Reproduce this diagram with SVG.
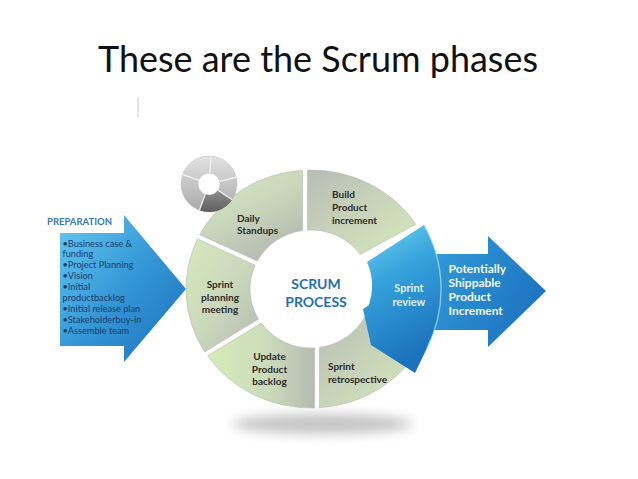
<svg xmlns="http://www.w3.org/2000/svg" width="638" height="479" viewBox="0 0 638 479">
<defs>
<style>
.t{font-family:Lato,"Liberation Sans",sans-serif}
.seg{stroke:#b4bab0;stroke-width:0.6}
.lbl{font-family:Lato,"Liberation Sans",sans-serif;font-size:10px;font-weight:700;fill:#2b2b2b}
.bul{font-family:Lato,"Liberation Sans",sans-serif;font-size:9.2px;fill:#173c6e}
.wt{font-family:Lato,"Liberation Sans",sans-serif;font-size:12px;font-weight:700}
.sr{font-family:Lato,"Liberation Sans",sans-serif;font-size:11px;font-weight:700;fill:#dff3fb}
</style>
<linearGradient id="gGL" x1="0" y1="0" x2="1" y2="1"><stop offset="0" stop-color="#d6e9bb"/><stop offset="0.5" stop-color="#cbd9bb"/><stop offset="1" stop-color="#b5b9b1"/></linearGradient>
<linearGradient id="gLG" x1="0" y1="0" x2="1" y2="1"><stop offset="0" stop-color="#b8bcb4"/><stop offset="0.5" stop-color="#c8d4ba"/><stop offset="1" stop-color="#d5e9b9"/></linearGradient>
<linearGradient id="gDaily" x1="0" y1="0" x2="0.6" y2="1"><stop offset="0" stop-color="#d8eabe"/><stop offset="0.5" stop-color="#cad8bb"/><stop offset="1" stop-color="#b6bab2"/></linearGradient>
<linearGradient id="gUpd" x1="0" y1="0" x2="1" y2="0"><stop offset="0" stop-color="#d6eaba"/><stop offset="0.55" stop-color="#ccdcba"/><stop offset="1" stop-color="#b6bab2"/></linearGradient>
<linearGradient id="gBlue" x1="0" y1="0" x2="0.3" y2="1"><stop offset="0" stop-color="#78d6f2"/><stop offset="0.4" stop-color="#36a3dc"/><stop offset="1" stop-color="#1b72bd"/></linearGradient>
<linearGradient id="gRight" x1="0" y1="0" x2="1" y2="0.4"><stop offset="0" stop-color="#3aa5de"/><stop offset="1" stop-color="#1d76c1"/></linearGradient>
<linearGradient id="gLeft" x1="0" y1="0" x2="1" y2="1"><stop offset="0" stop-color="#66c9f0"/><stop offset="0.5" stop-color="#3497d6"/><stop offset="1" stop-color="#1c70bb"/></linearGradient>
<linearGradient id="gRing" x1="0" y1="0" x2="0" y2="1"><stop offset="0" stop-color="#e2e2e2"/><stop offset="1" stop-color="#a9a9a9"/></linearGradient>
<linearGradient id="gRingD" x1="0" y1="0" x2="0" y2="1"><stop offset="0" stop-color="#909090"/><stop offset="1" stop-color="#5e5e5e"/></linearGradient>
<filter id="blur" x="-50%" y="-200%" width="200%" height="500%"><feGaussianBlur stdDeviation="6"/></filter>
</defs>
<rect width="638" height="479" fill="#ffffff"/>
<text class="t" x="98" y="72" font-size="37" fill="#111" textLength="440" lengthAdjust="spacingAndGlyphs">These are the Scrum phases</text>
<line x1="138" y1="97" x2="138" y2="117" stroke="#c8c8c8" stroke-width="1"/>
<ellipse cx="323" cy="424" rx="90" ry="10" fill="#8a8a8a" opacity="0.5" filter="url(#blur)"/>
<g id="preparation">
<polygon points="60,233 124,233 124,215 186,289 124,362 124,346 60,346" fill="url(#gLeft)"/>
<text class="t" x="47" y="225" font-size="9.5" font-weight="700" fill="#3d77b5">PREPARATION</text>
<text class="bul" x="62.5" y="246.5">•Business case &amp;</text>
<text class="bul" x="62.5" y="257.4">funding</text>
<text class="bul" x="62.5" y="268.4">•Project Planning</text>
<text class="bul" x="62.5" y="279.3">•Vision</text>
<text class="bul" x="62.5" y="290.3">•Initial</text>
<text class="bul" x="62.5" y="301.2">productbacklog</text>
<text class="bul" x="62.5" y="312.1">•Initial release plan</text>
<text class="bul" x="62.5" y="323.1">•Stakeholderbuy-in</text>
<text class="bul" x="62.5" y="334">•Assemble team</text>
</g>
<g id="increment">
<polygon points="400,254 488,254 488,236 546,291 488,347 488,330 400,330" fill="url(#gRight)"/>
<text class="wt" fill="#f2f9ff" x="448.5" y="273">Potentially</text>
<text class="wt" fill="#f2f9ff" x="448.5" y="287">Shippable</text>
<text class="wt" fill="#f2f9ff" x="448.5" y="301">Product</text>
<text class="wt" fill="#f2f9ff" x="448.5" y="315">Increment</text>
</g>
<g id="daily-standups">
<path class="seg" d="M302.5,170.3 A125,119 0 0 0 199.8,234.7 L257.3,261 A61,59 0 0 1 302.5,230.6 Z" fill="url(#gDaily)"/>
<text class="lbl" x="237" y="222">Daily</text>
<text class="lbl" x="237" y="234">Standups</text>
</g>
<g id="build-increment">
<path class="seg" d="M307.5,170.05 A125,119 0 0 1 415.8,224.2 L360.3,254.3 A61,59 0 0 0 307.5,230.1 Z" fill="url(#gLG)"/>
<text class="lbl" x="332" y="198">Build</text>
<text class="lbl" x="332" y="211">Product</text>
<text class="lbl" x="332" y="223.5">increment</text>
</g>
<g id="sprint-planning">
<path class="seg" d="M197.6,239 A125,119 0 0 0 204.8,351.8 L258.5,319.1 A61,59 0 0 1 255.1,265.3 Z" fill="url(#gGL)"/>
<text class="lbl" x="220" y="288" text-anchor="middle">Sprint</text>
<text class="lbl" x="220" y="300.5" text-anchor="middle">planning</text>
<text class="lbl" x="220" y="313" text-anchor="middle">meeting</text>
</g>
<g id="update-backlog">
<path class="seg" d="M207.6,355.8 A125,119 0 0 0 314.5,408 L314.5,347.9 A61,59 0 0 1 261.2,323.1 Z" fill="url(#gUpd)"/>
<text class="lbl" x="269.5" y="360" text-anchor="middle">Update</text>
<text class="lbl" x="269.5" y="372.5" text-anchor="middle">Product</text>
<text class="lbl" x="269.5" y="385" text-anchor="middle">backlog</text>
</g>
<g id="sprint-retrospective">
<path class="seg" d="M319.5,407.7 A125,119 0 0 0 419.3,348.5 L366.3,313.9 A61,59 0 0 1 319.5,347.4 Z" fill="url(#gLG)"/>
<text class="lbl" x="328" y="370">Sprint</text>
<text class="lbl" x="328" y="382.5">retrospective</text>
</g>
<g id="sprint-review">
<path d="M367,262 L424,225 A130,130 0 0 1 427,348 L415,373 L371,345 L363,309 L369,305 A61,61 0 0 0 367,262 Z" fill="url(#gBlue)"/>
<path d="M424,225 A130,130 0 0 1 427,348" fill="none" stroke="#a6def5" stroke-width="1.3" opacity="0.8"/>
<text class="sr" x="409" y="291.5" text-anchor="middle">Sprint</text>
<text class="sr" x="409" y="305.5" text-anchor="middle">review</text>
</g>
<g id="scrum-process">
<text class="t" x="316" y="289" font-size="14" font-weight="700" fill="#1f6fb5" text-anchor="middle">SCRUM</text>
<text class="t" x="316" y="307" font-size="14" font-weight="700" fill="#1f6fb5" text-anchor="middle">PROCESS</text>
</g>
<g id="cycle-icon">
<path d="M181,184 a28,28 0 1 0 56,0 a28,28 0 1 0 -56,0 Z M198,184 a11,11 0 1 0 22,0 a11,11 0 1 0 -22,0 Z" fill="url(#gRing)" fill-rule="evenodd" stroke="#bdbdbd" stroke-width="0.6"/>
<path d="M199.4,210.3 A28,28 0 0 0 232.2,199.7 L218.1,190.2 A11,11 0 0 1 205.2,194.3 Z" fill="url(#gRingD)"/>
<g stroke="#f4f4f4" stroke-width="1.2">
<line x1="209.8" y1="173" x2="211" y2="156.1"/>
<line x1="219.7" y1="181.3" x2="236.2" y2="177.2"/>
<line x1="198.7" y1="180.2" x2="182.7" y2="174.4"/>
<line x1="205.2" y1="194.3" x2="199.4" y2="210.3"/>
<line x1="218.1" y1="190.2" x2="232.2" y2="199.7"/>
</g>
</g>
</svg>
